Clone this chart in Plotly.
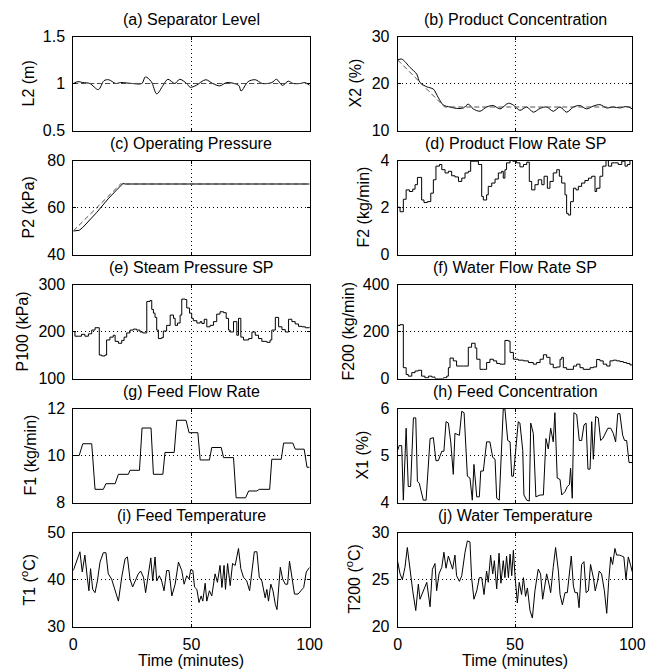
import plotly.graph_objects as go

# ---------------- data ----------------
x_ticks = [0, 50, 100]
x_ticktext = ["0", "50", "100"]

# (a) Separator level
l2_t = [0, 2, 4, 7, 10.6, 13, 15, 18, 20, 25, 29, 30.5, 33, 35.3, 38, 40, 43, 45, 48, 49.5, 52, 56, 59, 62, 65, 70, 71, 74, 77, 80, 84, 86, 88.5, 91, 93, 96, 98, 100]
l2_v = [1.0, 1.02, 1.01, 1.0, 0.935, 1.03, 1.04, 1.0, 1.01, 1.0, 1.0, 1.07, 1.02, 0.89, 0.98, 1.045, 1.0, 1.045, 1.0, 0.96, 0.98, 1.04, 1.0, 0.975, 1.01, 0.98, 0.92, 1.02, 1.04, 1.0, 1.01, 1.045, 0.98, 1.025, 1.0, 1.0, 1.01, 0.98]
l2_sp_t = [0, 100]
l2_sp_v = [1.0, 1.0]

# (b) Product concentration
x2_t = [0, 1.7, 5.3, 8.1, 9.5, 12.4, 15.2, 17.3, 19.5, 22.3, 25.1, 28, 30.1, 32.2, 35.1, 37.9, 40.8, 43.6, 47.2, 49.3, 52.1, 55, 57.8, 60.7, 63.5, 66.3, 69.2, 72, 74.9, 77.7, 80.5, 83.4, 86.2, 89.1, 91.9, 94.7, 97.6, 100]
x2_v = [25.0, 25.2, 23.4, 22.0, 20.2, 19.3, 18.8, 17.0, 15.4, 15.0, 14.7, 14.8, 15.6, 14.6, 14.1, 15.0, 15.3, 14.6, 15.8, 15.4, 14.3, 15.0, 13.9, 14.7, 15.0, 14.1, 15.0, 13.9, 15.0, 15.3, 14.6, 15.2, 15.5, 14.8, 15.0, 14.8, 15.1, 14.6]
x2_sp_t = [0, 20, 100]
x2_sp_v = [25, 15, 15]

# (c) Operating pressure
p2_t = [0, 2.5, 4, 10, 15, 20, 21, 22, 100]
p2_v = [50, 50.3, 51.5, 58, 64, 69.3, 70.2, 70, 70]
p2_sp_t = [0, 20, 100]
p2_sp_v = [50, 70, 70]

# (d) Product flow rate SP
f2_t = [0, 1.0, 2.4, 3.6, 5.0, 6.4, 7.4, 8.4, 10.2, 11.2, 12.6, 14.1, 15.2, 16.3, 17.8, 18.8, 20.2, 21.6, 23.0, 24.4, 25.9, 27.3, 28.7, 30.1, 31.1, 33.0, 34.4, 35.8, 36.5, 37.9, 38.6, 40.1, 41.5, 42.9, 44.3, 45.0, 45.7, 46.4, 47.9, 49.0, 50.7, 52.1, 53.6, 55.0, 56.1, 57.1, 58.5, 59.9, 61.4, 62.4, 63.8, 64.9, 66.3, 67.8, 68.9, 69.9, 71.3, 72.0, 72.7, 73.7, 74.9, 76.0, 77.0, 78.4, 79.8, 81.3, 82.7, 84.1, 84.8, 86.2, 87.4, 88.8, 89.8, 91.2, 92.6, 94.0, 95.5, 96.9, 97.9, 99.0, 100]
f2_v = [2.01, 1.82, 2.35, 2.75, 2.68, 2.78, 2.97, 3.28, 2.32, 2.21, 2.25, 2.61, 3.18, 3.76, 3.83, 3.61, 3.47, 3.54, 3.35, 3.30, 3.11, 3.25, 3.47, 3.54, 3.97, 3.97, 3.83, 2.47, 2.32, 2.54, 2.90, 3.04, 3.21, 3.47, 3.54, 3.25, 3.61, 3.90, 4.0, 3.97, 3.90, 3.73, 3.83, 3.93, 3.11, 2.75, 2.97, 3.18, 2.97, 3.33, 2.82, 3.11, 3.47, 3.61, 3.33, 3.04, 2.54, 1.75, 1.68, 2.25, 2.82, 2.75, 2.90, 3.04, 3.15, 3.25, 3.33, 2.68, 2.82, 3.33, 3.76, 4.0, 3.76, 3.90, 3.90, 3.83, 3.97, 3.76, 3.83, 4.0, 3.97]

# (e) Steam pressure SP
p100_t = [0, 0.7, 2.8, 3.5, 4.9, 6.4, 7.8, 9.2, 11.0, 12.0, 13.4, 14.1, 15.5, 16.9, 17.7, 19.1, 20.5, 21.5, 22.6, 24.0, 25.4, 26.8, 28.2, 29.4, 31.1, 32.5, 33.2, 33.9, 34.6, 35.3, 36.0, 37.4, 38.1, 39.5, 41.0, 42.4, 43.1, 44.1, 45.2, 45.9, 47.3, 48.0, 49.2, 50.1, 50.8, 52.3, 53.7, 54.4, 55.4, 56.5, 57.9, 59.3, 60.7, 62.1, 63.6, 64.7, 65.7, 66.4, 67.8, 69.2, 69.9, 70.9, 72.0, 74.2, 75.6, 77.0, 78.4, 79.8, 81.9, 83.3, 84.0, 85.5, 86.9, 88.3, 89.7, 91.1, 92.5, 93.9, 95.3, 96.8, 98.2, 100]
p100_v = [200, 190, 190, 194, 190, 195, 203, 208, 150, 148, 150, 182, 188, 192, 179, 175, 181, 188, 197, 203, 205, 203, 199, 197, 264, 266, 247, 239, 230, 203, 185, 187, 201, 213, 235, 228, 213, 218, 235, 269, 268, 250, 239, 228, 223, 218, 221, 217, 226, 210, 213, 221, 237, 242, 240, 228, 203, 199, 221, 192, 228, 188, 182, 185, 199, 192, 185, 179, 177, 182, 203, 230, 210, 204, 199, 226, 221, 216, 211, 210, 208, 210]

# (f) Water flow rate SP
f200_t = [0, 1.0, 2.4, 3.6, 4.5, 6.0, 7.4, 8.8, 10.2, 11.6, 13.1, 14.5, 15.9, 17.3, 19.5, 20.9, 21.6, 22.3, 23.7, 25.1, 28.0, 30.1, 31.5, 33.0, 33.7, 35.1, 36.5, 37.9, 39.3, 40.8, 42.2, 43.6, 45.7, 47.2, 47.9, 49.3, 51.4, 53.6, 55.7, 57.8, 59.2, 60.7, 62.1, 63.5, 64.9, 66.3, 67.8, 69.2, 69.9, 70.6, 72.0, 74.9, 76.3, 77.7, 79.1, 82.0, 83.4, 84.8, 86.2, 87.6, 89.1, 90.5, 91.9, 93.3, 94.7, 96.2, 97.6, 99.0, 100]
f200_v = [226, 229, 46, 17, 10, 25, 32, 35, 10, 3, 10, 6, 0, 0, 3, 10, 46, 87, 75, 53, 53, 133, 150, 130, 82, 39, 39, 68, 82, 75, 64, 61, 162, 159, 111, 82, 78, 75, 68, 61, 68, 82, 101, 90, 61, 46, 49, 82, 90, 46, 39, 53, 61, 46, 39, 46, 49, 81, 75, 61, 53, 75, 78, 75, 72, 68, 64, 58, 58]

# (g) Feed flow rate
f1_t = [0, 2.5, 4.0, 7.8, 9.2, 12.7, 13.8, 17.7, 19.1, 23.3, 24.0, 28.0, 29.1, 32.9, 33.9, 37.9, 38.8, 42.7, 43.8, 47.7, 49.0, 52.7, 53.7, 57.6, 58.6, 62.6, 63.6, 67.8, 68.9, 72.9, 74.2, 77.7, 78.7, 83.1, 84.0, 88.0, 89.0, 92.9, 93.9, 97.7, 98.9, 100]
f1_v = [10.0, 10.0, 10.5, 10.5, 8.56, 8.56, 8.8, 8.8, 9.2, 9.2, 9.37, 9.37, 11.17, 11.17, 9.2, 9.2, 10.13, 10.13, 11.5, 11.5, 10.97, 10.97, 9.81, 9.81, 10.34, 10.34, 9.91, 9.91, 8.2, 8.2, 8.49, 8.49, 8.56, 8.56, 9.84, 9.84, 10.53, 10.53, 10.27, 10.27, 9.5, 9.5]

# (h) Feed concentration
x1_t = [0.0, 0.6, 1.7, 2.4, 3.6, 4.5, 5.5, 6.7, 7.7, 8.4, 9.2, 10.9, 12.1, 13.1, 13.8, 15.2, 16.3, 17.3, 18.8, 19.7, 20.6, 21.6, 22.6, 23.7, 24.4, 26.3, 27.3, 28.3, 29.7, 30.8, 31.8, 32.5, 33.7, 34.8, 35.4, 36.5, 37.9, 39.3, 40.5, 41.5, 42.2, 43.3, 45.0, 45.7, 46.9, 47.9, 48.6, 49.3, 51.4, 52.1, 53.3, 53.8, 55.0, 56.1, 56.7, 57.8, 58.9, 60.7, 62.1, 63.2, 64.2, 65.2, 66.3, 67.0, 68.0, 69.2, 69.9, 71.3, 72.3, 73.2, 73.7, 74.4, 75.1, 76.3, 77.4, 78.4, 79.4, 80.3, 81.1, 82.0, 82.7, 83.4, 84.4, 85.5, 86.5, 87.4, 88.5, 89.6, 90.8, 91.9, 92.9, 93.8, 94.7, 95.9, 96.7, 97.6, 98.6, 100]
x1_v = [5.11, 5.21, 5.21, 4.05, 5.58, 4.34, 4.34, 5.80, 5.80, 4.45, 4.41, 4.05, 4.05, 4.81, 5.36, 5.38, 4.89, 4.89, 5.09, 5.09, 5.72, 5.69, 5.29, 4.60, 5.47, 5.43, 5.94, 5.91, 4.56, 4.52, 4.05, 4.81, 4.12, 4.12, 4.67, 4.67, 5.29, 5.29, 4.96, 4.92, 4.09, 4.05, 5.99, 5.99, 5.32, 5.29, 4.56, 4.56, 5.72, 5.69, 5.11, 4.16, 4.05, 4.03, 5.69, 5.47, 4.12, 4.16, 4.16, 5.36, 5.14, 5.58, 5.29, 5.91, 4.52, 4.49, 4.16, 4.23, 4.34, 4.38, 4.73, 4.09, 5.91, 5.87, 5.32, 5.32, 5.65, 5.69, 4.71, 4.71, 5.72, 4.92, 5.83, 5.80, 5.32, 5.36, 5.48, 5.58, 5.58, 5.47, 5.29, 5.89, 5.89, 5.43, 5.32, 5.32, 4.85, 4.85]

# (i) Feed temperature
t1_t = [0.0, 1.4, 2.8, 3.8, 4.9, 5.9, 6.6, 7.3, 8.2, 9.2, 10.2, 11.3, 12.7, 13.8, 14.8, 16.2, 17.7, 19.1, 20.5, 21.9, 22.9, 24.0, 25.1, 26.1, 27.5, 28.5, 29.7, 30.6, 31.8, 32.8, 33.6, 34.6, 35.3, 36.4, 37.4, 38.4, 39.5, 40.5, 41.7, 43.1, 44.5, 45.9, 46.9, 48.0, 49.0, 49.7, 50.6, 51.3, 52.3, 53.2, 54.1, 54.8, 55.8, 56.5, 57.6, 58.6, 60.0, 61.0, 62.1, 62.9, 63.8, 64.4, 65.3, 66.4, 67.4, 68.5, 69.9, 70.9, 72.0, 73.4, 74.6, 75.6, 76.6, 77.7, 78.7, 79.8, 81.2, 81.9, 82.6, 83.6, 84.5, 85.5, 86.2, 87.6, 88.6, 89.7, 90.7, 91.5, 92.5, 93.6, 95.1, 96.3, 97.5, 98.6, 100]
t1_v = [41.9, 44.1, 45.9, 41.6, 45.2, 40.5, 37.6, 42.3, 37.9, 37.2, 39.7, 43.7, 45.7, 45.7, 41.2, 40.1, 37.6, 35.4, 40.5, 44.4, 44.8, 40.1, 38.4, 39.7, 41.2, 41.8, 40.5, 37.2, 41.9, 44.6, 39.7, 44.8, 39.7, 40.8, 39.7, 37.6, 41.9, 41.9, 36.5, 39.0, 43.7, 41.9, 39.0, 40.8, 40.1, 42.1, 41.9, 38.4, 37.9, 35.1, 36.5, 35.4, 39.2, 35.4, 37.6, 36.5, 41.2, 39.4, 43.0, 38.3, 43.0, 37.9, 43.4, 38.7, 43.4, 43.0, 46.6, 42.3, 40.5, 39.7, 37.6, 42.3, 45.9, 45.9, 40.5, 39.7, 36.1, 37.9, 35.4, 39.0, 37.6, 34.7, 33.6, 42.6, 40.1, 39.0, 39.0, 43.9, 40.5, 36.9, 36.9, 37.6, 38.3, 41.6, 42.6]

# (j) Water temperature
t200_t = [0, 1.0, 2.0, 3.1, 4.1, 5.3, 6.4, 7.7, 8.8, 9.5, 10.9, 12.4, 13.8, 14.8, 15.9, 16.6, 17.6, 18.8, 19.7, 20.6, 21.6, 22.3, 23.4, 24.4, 25.1, 26.3, 27.3, 28.7, 29.7, 30.8, 31.5, 32.5, 33.7, 34.8, 35.8, 36.8, 37.9, 38.6, 39.6, 40.5, 41.2, 42.2, 43.2, 44.0, 45.0, 45.7, 46.4, 47.2, 47.9, 48.6, 49.3, 50.0, 51.0, 51.8, 52.8, 53.6, 54.5, 55.3, 56.4, 57.4, 58.5, 59.9, 60.9, 61.8, 62.8, 63.5, 64.5, 65.2, 66.3, 67.3, 68.5, 69.2, 70.2, 71.3, 72.3, 73.2, 74.0, 74.9, 75.6, 76.6, 77.3, 78.4, 79.4, 80.3, 81.3, 82.2, 83.4, 84.2, 85.1, 85.9, 86.9, 88.1, 89.1, 89.9, 90.8, 91.6, 92.6, 93.3, 94.5, 95.5, 96.4, 97.3, 98.3, 99.3, 100]
t200_v = [26.9, 25.6, 25.0, 26.3, 28.4, 25.9, 23.8, 21.7, 24.5, 22.9, 23.8, 24.7, 22.1, 26.1, 26.7, 23.8, 25.6, 26.3, 27.9, 26.2, 27.5, 27.0, 26.1, 27.6, 25.4, 24.8, 25.4, 27.9, 29.1, 29.0, 25.2, 22.9, 23.8, 25.2, 25.2, 23.4, 25.9, 24.7, 27.6, 25.6, 27.0, 24.0, 27.8, 24.6, 27.0, 25.2, 27.5, 25.2, 27.7, 25.4, 28.1, 25.4, 22.5, 24.7, 23.4, 25.2, 23.2, 24.1, 21.7, 20.9, 23.8, 26.1, 25.6, 22.9, 24.5, 25.6, 24.5, 23.6, 26.3, 28.4, 25.9, 23.4, 22.3, 23.6, 23.6, 25.6, 27.5, 24.3, 23.6, 23.6, 22.0, 26.6, 26.9, 23.6, 23.8, 26.6, 25.2, 23.8, 24.7, 25.9, 25.6, 23.8, 21.4, 24.7, 27.4, 26.6, 28.3, 27.6, 27.6, 27.5, 27.4, 25.0, 27.4, 26.5, 25.8]

# panel definitions: title, y label, y tick labels
titles = ["(a) Separator Level", "(b) Product Concentration", "(c) Operating Pressure",
          "(d) Product Flow Rate SP", "(e) Steam Pressure SP", "(f) Water Flow Rate SP",
          "(g) Feed Flow Rate", "(h) Feed Concentration", "(i) Feed Temperature",
          "(j) Water Temperature"]
ylabels = ["L2 (m)", "X2 (%)", "P2 (kPa)", "F2 (kg/min)", "P100 (kPa)", "F200 (kg/min)",
           "F1 (kg/min)", "X1 (%)", "T1 (<sup>o</sup>C)", "T200 (<sup>o</sup>C)"]
y_ticks = [[0.5, 1, 1.5], [10, 20, 30], [40, 60, 80], [0, 2, 4], [100, 200, 300],
           [0, 200, 400], [8, 10, 12], [4, 5, 6], [30, 40, 50], [20, 25, 30]]
y_ticktext = [["0.5", "1", "1.5"], ["10", "20", "30"], ["40", "60", "80"], ["0", "2", "4"],
              ["100", "200", "300"], ["0", "200", "400"], ["8", "10", "12"], ["4", "5", "6"],
              ["30", "40", "50"], ["20", "25", "30"]]
xlabel = "Time (minutes)"

series = [
    [(l2_t, l2_v, "spline"), (l2_sp_t, l2_sp_v, "sp")],
    [(x2_t, x2_v, "spline"), (x2_sp_t, x2_sp_v, "sp")],
    [(p2_t, p2_v, "linear"), (p2_sp_t, p2_sp_v, "sp")],
    [(f2_t, f2_v, "hv")],
    [(p100_t, p100_v, "hv")],
    [(f200_t, f200_v, "hv")],
    [(f1_t, f1_v, "linear")],
    [(x1_t, x1_v, "linear")],
    [(t1_t, t1_v, "linear")],
    [(t200_t, t200_v, "linear")],
]

# ---------------- layout geometry (screen pixels) ----------------
W, H = 647, 671
col_x = [(73.3, 309.6), (397.7, 632.3)]
row_top0, row_step, row_h = 36.5, 124.0, 94.0
ylabel_x = [28, 355, 28, 363, 22, 348, 30, 362, 28, 353]
FONT = "Arial, Liberation Sans, Helvetica, sans-serif"
FS = 16


def fx(px):
    return px / W


def fy(py):
    return 1 - py / H


fig = go.Figure()
annotations = []
for i in range(10):
    r, c = divmod(i, 2)
    x0, x1 = col_x[c]
    top = row_top0 + r * row_step
    bot = top + row_h
    n = i + 1
    xa = "xaxis" if n == 1 else f"xaxis{n}"
    ya = "yaxis" if n == 1 else f"yaxis{n}"
    xr = "x" if n == 1 else f"x{n}"
    yr = "y" if n == 1 else f"y{n}"
    for (t, v, kind) in series[i]:
        if kind == "sp":
            line = dict(color="#505050", width=1, dash="5px,3px", shape="linear")
        elif kind == "spline":
            line = dict(color="black", width=1, shape="spline", smoothing=0.9)
        else:
            line = dict(color="black", width=1, shape=kind)
        fig.add_trace(go.Scatter(x=t, y=v, mode="lines", line=line, xaxis=xr, yaxis=yr,
                                 showlegend=False, hoverinfo="skip"))
    common = dict(showline=True, linecolor="black", linewidth=1, mirror="ticks",
                  ticks="inside", ticklen=3, tickcolor="black", tickwidth=1,
                  showgrid=True, gridcolor="black", gridwidth=1, griddash="1px,3px",
                  zeroline=False, automargin=False, fixedrange=True,
                  tickfont=dict(family=FONT, size=FS, color="black"))
    fig.layout[xa] = dict(domain=[fx(x0), fx(x1)], anchor=yr, range=[0, 100],
                          tickmode="array", tickvals=x_ticks, ticktext=x_ticktext,
                          showticklabels=(r == 4), ticklabelstandoff=3, **common)
    yt = y_ticks[i]
    fig.layout[ya] = dict(domain=[fy(bot), fy(top)], anchor=xr,
                          range=[yt[0], yt[-1]], tickmode="array", tickvals=yt,
                          ticktext=y_ticktext[i], ticklabelstandoff=4, **common)
    annotations.append(dict(text=titles[i], x=fx((x0 + x1) / 2), y=fy(top - 17),
                            xref="paper", yref="paper", xanchor="center", yanchor="middle",
                            showarrow=False, font=dict(family=FONT, size=FS, color="black")))
    annotations.append(dict(text=ylabels[i], x=fx(ylabel_x[i]), y=fy((top + bot) / 2),
                            xref="paper", yref="paper", xanchor="center", yanchor="middle",
                            textangle=-90, showarrow=False,
                            font=dict(family=FONT, size=FS, color="black")))
    if r == 4:
        annotations.append(dict(text=xlabel, x=fx((x0 + x1) / 2), y=fy(660),
                                xref="paper", yref="paper", xanchor="center", yanchor="middle",
                                showarrow=False, font=dict(family=FONT, size=FS, color="black")))

fig.update_layout(template="none", width=W, height=H, autosize=False,
                  margin=dict(l=0, r=0, t=0, b=0, pad=0),
                  paper_bgcolor="white", plot_bgcolor="white",
                  annotations=annotations, showlegend=False)

# remove the default page margin so the 647x671 figure exactly fills the window
fig.write_html("out.html",
               config={"displayModeBar": False, "staticPlot": True},
               post_script="document.body.style.margin='0';"
                           "document.body.style.overflow='hidden';")
